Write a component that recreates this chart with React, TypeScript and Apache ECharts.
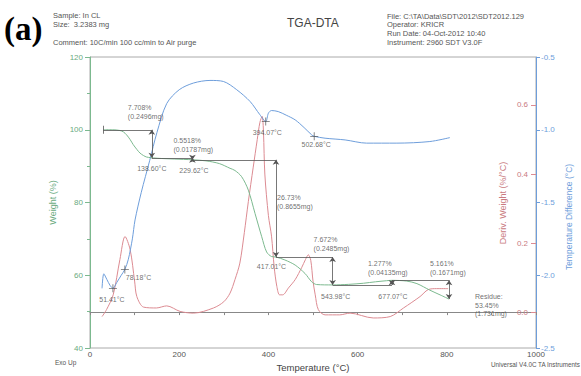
import React, { useEffect, useRef } from "react";
import * as echarts from "echarts";

// ---- Weight (TGA) curve ----
const weightTemp = [30, 50, 67, 75, 82, 90, 97, 105, 112, 120, 127, 135, 142, 160, 190, 229.62, 260, 290, 314, 325, 340, 355, 370, 385, 396, 407, 417.01, 437, 460, 482, 497, 508, 543.98, 580, 613, 640, 665, 677.07, 710, 733, 762, 785, 805];
const weightPct = [100, 100, 99.8, 99.4, 98.6, 97.3, 95.9, 94.6, 93.6, 92.9, 92.5, 92.35, 92.25, 92.1, 91.95, 91.74, 91.45, 90.7, 89.4, 88.8, 87.1, 83.4, 77.0, 70.6, 66.4, 65.15, 65.01, 64.2, 62.8, 60.5, 58.2, 57.45, 57.34, 57.5, 57.8, 58.2, 58.5, 58.6, 58.4, 57.7, 55.9, 54.6, 53.45];

// ---- Derivative weight curve ----
const derivTemp = [27, 37, 52, 67, 78.5, 90, 100, 105, 120, 149, 172, 202, 232, 277, 300, 314, 325, 336, 346, 355, 366, 375, 381, 386, 389, 392, 400, 407, 413, 419, 425, 432, 445, 460, 475, 483, 489.5, 495, 500, 505, 512, 527, 560, 583, 635, 673, 703, 740, 758, 777, 803];
const derivVal = [-0.013, 0.007, 0.05, 0.152, 0.219, 0.181, 0.09, 0.045, 0.0145, 0.012, 0.018, 0.002, -0.003, 0.012, 0.03, 0.055, 0.094, 0.142, 0.23, 0.32, 0.42, 0.5, 0.55, 0.567, 0.52, 0.4, 0.28, 0.22, 0.13, 0.074, 0.05, 0.05, 0.07, 0.094, 0.13, 0.152, 0.166, 0.15, 0.09, 0.05, 0.007, -0.008, -0.008, -0.003, -0.017, -0.013, 0.012, 0.045, 0.065, 0.068, 0.068];

// ---- Temperature difference (DTA) curve ----
const dtaTemp = [27, 31, 38, 45, 51.41, 60, 70, 78.18, 86, 95, 101, 115, 134, 150, 172, 200, 232, 269, 299, 329, 359, 381, 394.07, 400, 407, 422, 440, 460, 480, 497, 502.68, 527, 572, 620, 688, 762, 807];
const dtaVal = [-2.09, -1.99, -2.03, -2.07, -2.09, -2.05, -2.0, -1.96, -1.89, -1.75, -1.62, -1.43, -1.21, -1.02, -0.82, -0.725, -0.679, -0.661, -0.668, -0.725, -0.806, -0.897, -0.944, -0.886, -0.868, -0.875, -0.9, -0.932, -0.985, -1.035, -1.045, -1.058, -1.07, -1.092, -1.092, -1.081, -1.054];

// Marked DTA events (°C)
const dtaEvents = [51.41, 78.18, 394.07, 502.68];

// ---- Step analysis ----
const stepStart = 30;
const stepTemp = [138.6, 229.62, 417.01, 543.98, 677.07, 805];
const stepLevel = [100, 92.292, 91.74, 65.01, 57.338, 58.615, 53.454];
const stepPct = ["7.708%", "0.5518%", "26.73%", "7.672%", "1.277%", "5.161%"];
const stepMg = ["(0.2496mg)", "(0.01787mg)", "(0.8655mg)", "(0.2485mg)", "(0.04135mg)", "(0.1671mg)"];
const residuePct = "53.45%";
const residueMg = "(1.731mg)";

// Axis ticks
const derivTicks = [0, 0.2, 0.4, 0.6];

// Label placement (pixel offsets)
const pctOffsets = [[-24, -18], [-19, -13], [1, 42], [-19, -13], [-24, -17], [-19, -12.5]];
const tempOffsets = [[0, 11], [1.5, 11], [-4.5, 9], [3, 12], [1, 16.5]];
const eventOffsets = [[-1, 11], [1, 8], [1.5, 11], [2, 8.5]];
const eventAlign = ["center", "left", "center", "center"];

const SANS = "'Liberation Sans', Arial, sans-serif";
const GREEN = "#7cb98f";
const GREEN_TXT = "#6aaa80";
const RED = "#dc8b92";
const RED_TXT = "#c97a80";
const BLUE = "#6e9edb";
const INK = "#4a4a4a";

const pair = (xs: number[], ys: number[]) => xs.map((x, i) => [x, ys[i]]);

export default function App() {
  const ref = useRef<HTMLDivElement>(null);

  useEffect(() => {
    if (!ref.current) return;
    const chart = echarts.init(ref.current, undefined, { renderer: "svg" });

    // step bracket lines and double-headed arrows
    const seg = (x1: number, y1: number, x2: number, y2: number, arrow: boolean) => [
      { coord: [x1, y1], symbol: arrow ? "arrow" : "none" },
      { coord: [x2, y2], symbol: arrow ? "arrow" : "none" },
    ];
    const markData: any[] = [seg(stepStart, 101.1, stepStart, 98.9, false)];
    stepTemp.forEach((t, i) => {
      const from = i === 0 ? stepStart : stepTemp[i - 1];
      markData.push(seg(from, stepLevel[i], t, stepLevel[i], false));
      markData.push(seg(t, stepLevel[i], t, stepLevel[i + 1], true));
    });

    const labelBase = {
      show: true,
      position: "inside",
      fontSize: 7,
      fontFamily: SANS,
      color: INK,
      textBorderWidth: 0,
      textBorderColor: "transparent",
      lineHeight: 8.5,
      verticalAlign: "middle",
    };

    const pctItems = stepTemp.map((t, i) => ({
      value: [t, stepLevel[i]],
      label: { ...labelBase, align: "left", offset: pctOffsets[i], formatter: `${stepPct[i]}\n${stepMg[i]}` },
    }));
    const tempItems = stepTemp.slice(0, 5).map((t, i) => ({
      value: [t, stepLevel[i + 1]],
      label: { ...labelBase, align: "center", offset: tempOffsets[i], formatter: `${t.toFixed(2)}°C` },
    }));
    const residueItem = {
      value: [stepTemp[5], stepLevel[6]],
      label: { ...labelBase, align: "left", offset: [26, 6], formatter: `Residue:\n${residuePct}\n${residueMg}` },
    };

    const eventItems = dtaEvents.map((t, i) => ({
      value: [t, dtaVal[dtaTemp.indexOf(t)]],
      label: { ...labelBase, align: eventAlign[i], offset: eventOffsets[i], formatter: `${t.toFixed(2)}°C` },
    }));

    const text = (x: number, y: number, s: string, size: number, extra: any = {}) => ({
      type: "text",
      x,
      y,
      silent: true,
      style: { text: s, fontSize: size, fontFamily: SANS, fill: "#555", textVerticalAlign: "middle", ...extra },
    });

    const option: any = {
      animation: false,
      backgroundColor: "#fff",
      grid: { left: 90, right: 45, top: 57, bottom: 28, show: true, borderColor: "#aaa", borderWidth: 1, containLabel: false, outerBoundsMode: "none" },
      xAxis: {
        type: "value",
        min: 0,
        max: 1000,
        interval: 200,
        axisLine: { lineStyle: { color: "#888" } },
        axisTick: { show: true, length: 3, lineStyle: { color: "#888" } },
        minorTick: { show: true, splitNumber: 2, length: 3, lineStyle: { color: "#888" } },
        splitLine: { show: false },
        axisLabel: { color: "#555", fontSize: 8, fontFamily: SANS, margin: 2, formatter: (v: number) => String(v) },
        name: "Temperature (°C)",
        nameLocation: "middle",
        nameGap: 13,
        nameTextStyle: { color: "#444", fontSize: 9.5, fontFamily: SANS },
      },
      yAxis: [
        {
          type: "value",
          min: 40,
          max: 120,
          interval: 20,
          position: "left",
          axisLine: { show: true, lineStyle: { color: GREEN } },
          axisTick: { show: true, length: 5, lineStyle: { color: GREEN } },
          minorTick: { show: true, splitNumber: 2, length: 3, lineStyle: { color: GREEN } },
          splitLine: { show: false },
          axisLabel: { color: GREEN_TXT, fontSize: 8, fontFamily: SANS, margin: 7 },
          name: "Weight (%)",
          nameLocation: "middle",
          nameRotate: 90,
          nameGap: 33,
          nameTextStyle: { color: GREEN_TXT, fontSize: 9, fontFamily: SANS },
        },
        {
          type: "value",
          min: -0.104,
          max: 0.739,
          position: "right",
          offset: 0,
          axisLine: { show: false },
          axisTick: { show: true, inside: true, length: 5, customValues: derivTicks, lineStyle: { color: RED } },
          splitLine: { show: false },
          axisLabel: { inside: true, customValues: derivTicks, color: RED_TXT, fontSize: 8, fontFamily: SANS, margin: 8, formatter: (v: number) => v.toFixed(1) },
        },
        {
          type: "value",
          min: -2.5,
          max: -0.5,
          interval: 0.5,
          position: "right",
          offset: 0,
          axisLine: { show: true, lineStyle: { color: BLUE } },
          axisTick: { show: true, length: 4, lineStyle: { color: BLUE } },
          splitLine: { show: false },
          axisLabel: { color: BLUE, fontSize: 8, fontFamily: SANS, margin: 5, formatter: (v: number) => v.toFixed(1) },
        },
      ],
      series: [
        {
          name: "Weight",
          type: "line",
          yAxisIndex: 0,
          data: pair(weightTemp, weightPct),
          showSymbol: false,
          smooth: 0.3,
          lineStyle: { color: GREEN, width: 1 },
          silent: true,
          z: 3,
          markLine: {
            silent: true,
            symbolSize: 5,
            label: { show: false },
            lineStyle: { color: "#555", width: 0.8, type: "solid" },
            data: markData,
          },
        },
        {
          name: "Deriv. Weight",
          type: "line",
          yAxisIndex: 1,
          data: pair(derivTemp, derivVal),
          showSymbol: false,
          smooth: 0.3,
          lineStyle: { color: RED, width: 1 },
          silent: true,
          z: 2,
        },
        {
          name: "Temperature Difference",
          type: "line",
          yAxisIndex: 2,
          data: pair(dtaTemp, dtaVal),
          showSymbol: false,
          smooth: 0.3,
          lineStyle: { color: BLUE, width: 1 },
          silent: true,
          z: 2,
        },
        {
          name: "DTA events",
          type: "scatter",
          yAxisIndex: 2,
          symbol: "path://M0,4.5H10V5.5H0Z M4.5,0H5.5V10H4.5Z",
          symbolSize: 8,
          itemStyle: { color: "#444" },
          label: { ...labelBase },
          silent: true,
          data: eventItems,
          z: 5,
        },
        {
          name: "Step labels",
          type: "scatter",
          yAxisIndex: 0,
          symbolSize: 0,
          itemStyle: { color: INK },
          label: { ...labelBase },
          silent: true,
          data: [...pctItems, ...tempItems, residueItem],
          z: 5,
        },
      ],
      graphic: [
        { type: "text", x: 4, y: 29, silent: true, style: { text: "(a)", fontSize: 33, fontWeight: "bold", fontFamily: "'Liberation Serif', 'Times New Roman', serif", fill: "#000", textVerticalAlign: "middle" } },
        text(53, 15.5, "Sample: In CL", 7.5),
        text(53, 24, "Size:  3.2383 mg", 7.5),
        text(53, 42.5, "Comment: 10C/min 100 cc/min to Air purge", 7.5),
        text(287, 22.5, "TGA-DTA", 12, { fill: "#444" }),
        text(387, 16, "File: C:\\TA\\Data\\SDT\\2012\\SDT2012.129", 7.5),
        text(387, 24.5, "Operator: KRICR", 7.5),
        text(387, 33.3, "Run Date: 04-Oct-2012 10:40", 7.5),
        text(387, 42.3, "Instrument: 2960 SDT V3.0F", 7.5),
        text(55, 362, "Exo Up", 6.5),
        text(580, 364, "Universal V4.0C TA Instruments", 6.3, { textAlign: "right" }),
        { type: "text", x: 503, y: 203, rotation: Math.PI / 2, silent: true, style: { text: "Deriv. Weight (%/°C)", fontSize: 9, fontFamily: SANS, fill: RED_TXT, textAlign: "center", textVerticalAlign: "middle" } },
        { type: "text", x: 569, y: 217, rotation: Math.PI / 2, silent: true, style: { text: "Temperature Difference (°C)", fontSize: 8.5, fontFamily: SANS, fill: BLUE, textAlign: "center", textVerticalAlign: "middle" } },
      ],
    };

    chart.setOption(option);
    return () => chart.dispose();
  }, []);

  return <div ref={ref} style={{ position: "fixed", left: 0, top: 0, width: 581, height: 376 }} />;
}
